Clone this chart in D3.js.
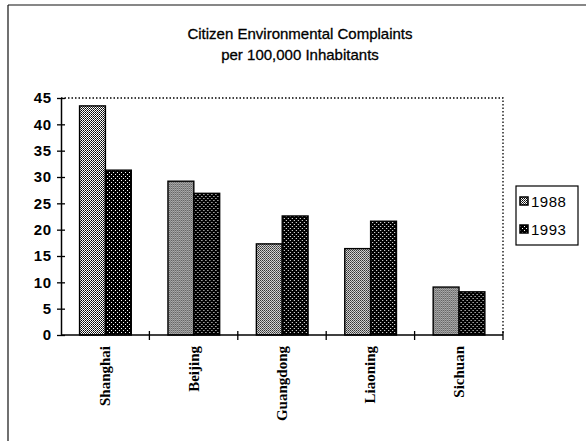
<!DOCTYPE html>
<html>
<head>
<meta charset="utf-8">
<script src="https://cdn.jsdelivr.net/npm/d3@7/dist/d3.min.js"></script>
<style>
  html, body { margin: 0; padding: 0; background: #fff; }
  svg { display: block; }
</style>
</head>
<body>
<div id="chart"></div>
<script>
// data
var categories = ["Shanghai", "Beijing", "Guangdong", "Liaoning", "Sichuan"];
var years = ["1988", "1993"];
var v1988 = [43.5, 29.2, 17.3, 16.4, 9.1];
var v1993 = [31.3, 26.9, 22.6, 21.6, 8.2];
var yTicks = [0, 5, 10, 15, 20, 25, 30, 35, 40, 45];
var titleLines = ["Citizen Environmental Complaints", "per 100,000 Inhabitants"];

var W = 586, H = 441;
var plot = { left: 61, right: 503, top: 98, bottom: 335 };

var svg = d3.select("#chart").append("svg")
    .attr("width", W)
    .attr("height", H);

// fill patterns, like the old mono printout
var defs = svg.append("defs");
var p88 = defs.append("pattern")
    .attr("id", "pat1988")
    .attr("patternUnits", "userSpaceOnUse")
    .attr("width", 2).attr("height", 2);
p88.append("rect").attr("width", 2).attr("height", 2).attr("fill", "#fff");
p88.append("rect").attr("x", 0).attr("y", 0).attr("width", 1).attr("height", 1).attr("fill", "#000");
p88.append("rect").attr("x", 1).attr("y", 1).attr("width", 1).attr("height", 1).attr("fill", "#333");

var p93 = defs.append("pattern")
    .attr("id", "pat1993")
    .attr("patternUnits", "userSpaceOnUse")
    .attr("width", 4).attr("height", 4);
p93.append("rect").attr("width", 4).attr("height", 4).attr("fill", "#000");
p93.append("rect").attr("x", 0).attr("y", 0).attr("width", 1).attr("height", 1).attr("fill", "#fff");
p93.append("rect").attr("x", 2).attr("y", 2).attr("width", 1).attr("height", 1).attr("fill", "#fff");

var fills = { "1988": "url(#pat1988)", "1993": "url(#pat1993)" };

// outer frame (left + top edges are what shows)
svg.append("line").attr("x1", 8).attr("x2", 8).attr("y1", 5).attr("y2", H)
    .attr("stroke", "#111").attr("stroke-width", 1.2);
svg.append("line").attr("x1", 8).attr("x2", W).attr("y1", 5).attr("y2", 5)
    .attr("stroke", "#111").attr("stroke-width", 1.2);

// title
svg.append("g")
    .attr("font-family", "'Liberation Sans', Arial, sans-serif")
    .attr("font-size", 15)
    .attr("text-anchor", "middle")
    .attr("fill", "#000")
    .attr("stroke", "#000")
    .attr("stroke-width", 0.3)
    .selectAll("text")
    .data(titleLines)
    .enter().append("text")
    .attr("x", 300)
    .attr("y", function (d, i) { return 39 + i * 21; })
    .text(function (d) { return d; });

// scales
var x = d3.scaleBand()
    .domain(categories)
    .range([plot.left, plot.right])
    .padding(0);

var x1 = d3.scaleBand()
    .domain(years)
    .range([x.bandwidth() * 0.21, x.bandwidth() * 0.795]);

var y = d3.scaleLinear()
    .domain([0, 45])
    .range([plot.bottom, plot.top]);

var rows = categories.map(function (c, i) {
    return { cat: c, "1988": v1988[i], "1993": v1993[i] };
});

// dotted plot border (top and right)
svg.append("path")
    .attr("d", "M" + plot.left + "," + y(45) + "H" + plot.right + "V" + plot.bottom)
    .attr("fill", "none")
    .attr("stroke", "#000")
    .attr("stroke-width", 1.3)
    .attr("stroke-dasharray", "1.5,2");

// bars
svg.append("g")
    .selectAll("g")
    .data(rows)
    .enter().append("g")
    .attr("transform", function (d) { return "translate(" + x(d.cat) + ",0)"; })
    .selectAll("rect")
    .data(function (d) { return years.map(function (k) { return { key: k, value: d[k] }; }); })
    .enter().append("rect")
    .attr("x", function (d) { return x1(d.key); })
    .attr("y", function (d) { return y(d.value); })
    .attr("width", x1.bandwidth())
    .attr("height", function (d) { return y(0) - y(d.value); })
    .attr("fill", function (d) { return fills[d.key]; })
    .attr("stroke", "#000")
    .attr("stroke-width", 1.4);

// y axis
var yAxis = svg.append("g")
    .attr("transform", "translate(" + plot.left + ",0)")
    .call(d3.axisLeft(y).tickValues(yTicks).tickSize(4).tickSizeOuter(0));
yAxis.select(".domain").attr("stroke", "#000").attr("stroke-width", 1.5);
yAxis.selectAll(".tick line")
    .attr("x1", -4).attr("x2", 4)
    .attr("stroke", "#000").attr("stroke-width", 1.3);
yAxis.selectAll(".tick text")
    .attr("x", -9)
    .attr("font-family", "'Liberation Sans', Arial, sans-serif")
    .attr("font-weight", "bold")
    .attr("font-size", 15)
    .attr("letter-spacing", "0.8")
    .attr("fill", "#000");

// x axis: ticks at category boundaries
var xAxis = svg.append("g")
    .attr("transform", "translate(0," + plot.bottom + ")");
xAxis.append("line")
    .attr("x1", plot.left).attr("x2", plot.right)
    .attr("stroke", "#000").attr("stroke-width", 1.5);
xAxis.selectAll("line.tk")
    .data(categories.slice(1).concat(["_end"]))
    .enter().append("line")
    .attr("class", "tk")
    .attr("x1", function (d) { return d === "_end" ? plot.right : x(d); })
    .attr("x2", function (d) { return d === "_end" ? plot.right : x(d); })
    .attr("y1", -4).attr("y2", 5)
    .attr("stroke", "#000").attr("stroke-width", 1.3);

// category labels, rotated, serif
xAxis.selectAll("text")
    .data(categories)
    .enter().append("text")
    .attr("transform", function (d) {
        return "translate(" + (x(d) + x.bandwidth() / 2 + 5) + ",11) rotate(-90)";
    })
    .attr("text-anchor", "end")
    .attr("font-family", "'Liberation Serif', 'Times New Roman', serif")
    .attr("font-weight", "bold")
    .attr("font-size", 15)
    .text(function (d) { return d; });

// legend
var legend = svg.append("g").attr("transform", "translate(516,186)");
legend.append("rect")
    .attr("width", 62).attr("height", 59)
    .attr("fill", "#fff")
    .attr("stroke", "#000").attr("stroke-width", 1.2);

var item = legend.selectAll("g.item")
    .data(years)
    .enter().append("g")
    .attr("class", "item")
    .attr("transform", function (d, i) { return "translate(4," + (16 + i * 28) + ")"; });

item.append("rect")
    .attr("x", 0).attr("y", -5)
    .attr("width", 8).attr("height", 8)
    .attr("fill", function (d) { return fills[d]; })
    .attr("stroke", "#000").attr("stroke-width", 1.5);

item.append("text")
    .attr("x", 11)
    .attr("y", 5)
    .attr("font-family", "'Liberation Sans', Arial, sans-serif")
    .attr("font-size", 15)
    .attr("letter-spacing", "0.5")
    .text(function (d) { return d; });
</script>
</body>
</html>
